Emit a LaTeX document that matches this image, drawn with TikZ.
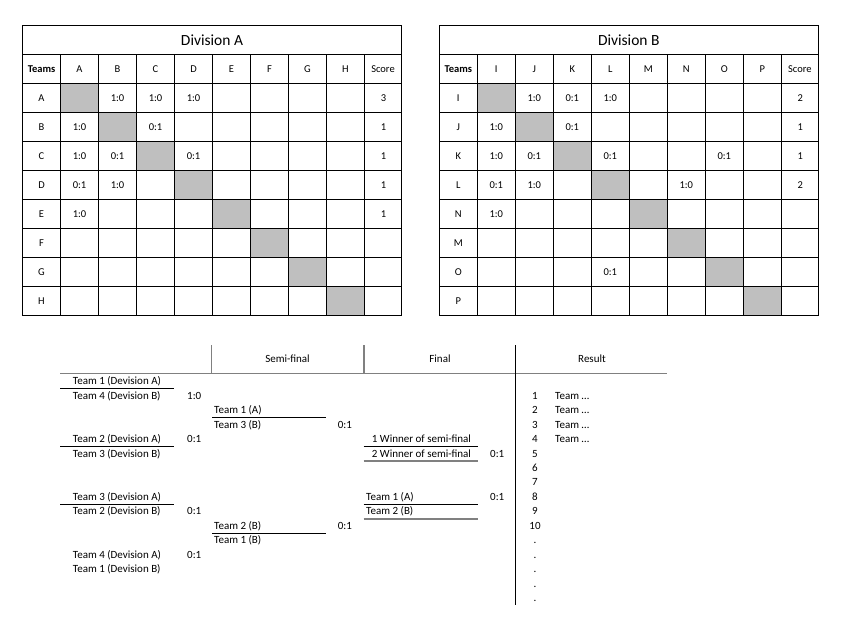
\documentclass[tikz,border=0pt]{standalone}
\usepackage{fontspec}
\setmainfont{Carlito}
\tikzset{
  tabline/.style={line width=0.8pt},
  diag/.style={fill=black!25},
  cell/.style={inner sep=0pt, font=\fontsize{10.5}{12}\selectfont},
  divtitle/.style={inner sep=0pt, font=\fontsize{15.5}{18}\selectfont},
  team/.style={anchor=west, inner sep=0pt, text height=7.5pt, text depth=2.5pt, font=\fontsize{11}{13}\selectfont},
  head/.style={inner sep=0pt, font=\fontsize{11}{13}\selectfont},
  rank/.style={head, text height=7.5pt, text depth=2.5pt},
  uline/.style={line width=0.9pt},
  gline/.style={line width=1.3pt, black!50},
}
\begin{document}
\begin{tikzpicture}[x=1pt,y=-1pt]
\fill[white] (0,0) rectangle (846,639);

% Division A
\begin{scope}[name prefix=a-]
\foreach \i in {1,...,8}
  \fill[diag] (22.5+38*\i,54.5+29*\i) rectangle ++(38,29);
\draw[tabline] (22.5,25.5) rectangle (401.5,315.5);
\foreach \r in {1,...,9}
  \draw[tabline] (22.5,25.5+29*\r) -- (401.5,25.5+29*\r);
\foreach \c in {1,...,9}
  \draw[tabline] (22.5+38*\c,54.5) -- (22.5+38*\c,315.5);
\node[divtitle] (title) at (212,40) {Division A};
\node[cell,font=\fontsize{10.5}{12}\selectfont\bfseries] (teams) at (41.5,69) {Teams};
\foreach \t [count=\c] in {A,B,C,D,E,F,G,H}
  \node[cell] (col\c) at (41.5+38*\c,69) {\t};
\node[cell] (score) at (383,69) {Score};
\foreach \t [count=\r] in {A,B,C,D,E,F,G,H}
  \node[cell] (row\r) at (41.5,69+29*\r) {\t};
\foreach \c/\r/\t in {2/1/1:0,3/1/1:0,4/1/1:0,9/1/3,
                      1/2/1:0,3/2/0:1,9/2/1,
                      1/3/1:0,2/3/0:1,4/3/0:1,9/3/1,
                      1/4/0:1,2/4/1:0,9/4/1,
                      1/5/1:0,9/5/1}
  \node[cell] (c\c-\r) at (41.5+38*\c,69+29*\r) {\t};
\end{scope}

% Division B
\begin{scope}[shift={(416.8,0)}, name prefix=b-]
\foreach \i in {1,...,8}
  \fill[diag] (22.5+38*\i,54.5+29*\i) rectangle ++(38,29);
\draw[tabline] (22.5,25.5) rectangle (401.5,315.5);
\foreach \r in {1,...,9}
  \draw[tabline] (22.5,25.5+29*\r) -- (401.5,25.5+29*\r);
\foreach \c in {1,...,9}
  \draw[tabline] (22.5+38*\c,54.5) -- (22.5+38*\c,315.5);
\node[divtitle] (title) at (212,40) {Division B};
\node[cell,font=\fontsize{10.5}{12}\selectfont\bfseries] (teams) at (41.5,69) {Teams};
\foreach \t [count=\c] in {I,J,K,L,M,N,O,P}
  \node[cell] (col\c) at (41.5+38*\c,69) {\t};
\node[cell] (score) at (383,69) {Score};
\foreach \t [count=\r] in {I,J,K,L,N,M,O,P}
  \node[cell] (row\r) at (41.5,69+29*\r) {\t};
\foreach \c/\r/\t in {2/1/1:0,3/1/0:1,4/1/1:0,9/1/2,
                      1/2/1:0,3/2/0:1,9/2/1,
                      1/3/1:0,2/3/0:1,4/3/0:1,7/3/0:1,9/3/1,
                      1/4/0:1,2/4/1:0,6/4/1:0,9/4/2,
                      1/5/1:0,
                      4/7/0:1}
  \node[cell] (c\c-\r) at (41.5+38*\c,69+29*\r) {\t};
\end{scope}

% play-off header
\draw[gline] (60,373.3) -- (667,373.3);
\draw[gline] (211.7,345) -- (211.7,373.3);
\draw[gline] (364,345) -- (364,373.3);
\draw[line width=1pt] (515,345) -- (515,605);
\node[head] (semi) at (287.5,359) {Semi-final};
\node[head] (final) at (440,359) {Final};
\node[head] (result) at (592,359) {Result};

% first round
\node[team] (r1a) at (72.7,382.3) {Team 1 (Devision A)};
\node[team] (r1b) at (72.7,396.75) {Team 4 (Devision B)};
\node[team] (r1s) at (187,396.75) {1:0};
\node[team] (r2a) at (72.7,440.1) {Team 2 (Devision A)};
\node[team] (r2s) at (187,440.1) {0:1};
\node[team] (r2b) at (72.7,454.55) {Team 3 (Devision B)};
\node[team] (r3a) at (72.7,497.9) {Team 3 (Devision A)};
\node[team] (r3b) at (72.7,512.35) {Team 2 (Devision B)};
\node[team] (r3s) at (187,512.35) {0:1};
\node[team] (r4a) at (72.7,555.7) {Team 4 (Devision A)};
\node[team] (r4s) at (187,555.7) {0:1};
\node[team] (r4b) at (72.7,570.15) {Team 1 (Devision B)};
\draw[uline] (60,388.8) -- (174,388.8);
\draw[uline] (60,446.6) -- (174,446.6);
\draw[uline] (60,504.4) -- (174,504.4);

% semi-final
\node[team] (s1a) at (214,411.2) {Team 1 (A)};
\node[team] (s1b) at (214,425.65) {Team 3 (B)};
\node[team] (s1s) at (337.7,425.65) {0:1};
\node[team] (s2a) at (214,526.8) {Team 2 (B)};
\node[team] (s2s) at (337.7,526.8) {0:1};
\node[team] (s2b) at (214,541.25) {Team 1 (B)};
\draw[uline] (212,417.7) -- (326,417.7);
\draw[uline] (212,533.3) -- (326,533.3);

% final
\node[team] (f1a) at (371.7,440.1) {1 Winner of semi-final};
\node[team] (f1b) at (371.7,454.55) {2 Winner of semi-final};
\node[team] (f1s) at (490,454.55) {0:1};
\node[team] (f2a) at (366,497.9) {Team 1 (A)};
\node[team] (f2s) at (490,497.9) {0:1};
\node[team] (f2b) at (366,512.35) {Team 2 (B)};
\draw[uline] (363.5,446.6) -- (477.5,446.6);
\draw[gline] (363.5,461) -- (477.5,461);
\draw[uline] (363.5,504.4) -- (477.5,504.4);
\draw[gline] (363.5,518.9) -- (477.5,518.9);

% result
\foreach \n in {1,...,10}
  \node[rank] (rank\n) at (535,382.3+14.45*\n) {\n};
\foreach \k in {11,...,15}
  \node[rank] (dot\k) at (535,382.3+14.45*\k) {.};
\foreach \n in {1,...,4}
  \node[team] (res\n) at (555,382.3+14.45*\n) {Team …};
\end{tikzpicture}
\end{document}
